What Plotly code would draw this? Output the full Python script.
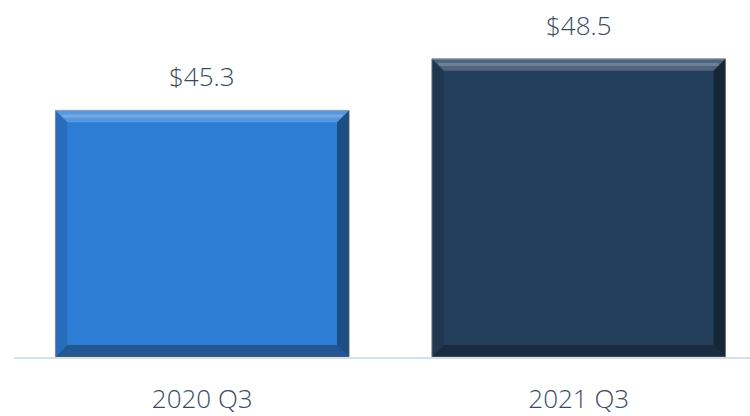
import plotly.graph_objects as go

categories = ["2020 Q3", "2021 Q3"]
values = [45.3, 48.5]
labels = ["$45.3", "$48.5"]
colors = ["#2e7dd5", "#243f5b"]

Y_MIN = 30
Y_MAX = 52.15
BAR_W = 0.78

fig = go.Figure()
fig.add_trace(go.Bar(
    x=list(range(len(categories))), y=[v - Y_MIN for v in values], base=Y_MIN,
    width=BAR_W, marker=dict(color=colors, line=dict(color="#8a8f96", width=1)),
    hoverinfo="skip", showlegend=False,
))

# bevel shapes derived from data
dx = 12 / 376.5
dy = 12 / 16.25
shapes = []
for i, v in enumerate(values):
    l, r = i - BAR_W / 2, i + BAR_W / 2
    t, b = v, Y_MIN
    def poly(pts, fill):
        path = "M " + " L ".join(f"{px},{py}" for px, py in pts) + " Z"
        shapes.append(dict(type="path", path=path, xref="x", yref="y",
                           fillcolor=fill, line=dict(width=0), layer="above"))
    # top bevel (light)
    poly([(l, t), (r, t), (r - dx, t - dy), (l + dx, t - dy)], "rgba(255,255,255,0.20)")
    # highlight stripe
    poly([(l + dx * 0.5, t - dy * 0.35), (r - dx * 0.5, t - dy * 0.35),
          (r - dx * 0.6, t - dy * 0.6), (l + dx * 0.6, t - dy * 0.6)], "rgba(255,255,255,0.18)")
    # left bevel
    poly([(l, t), (l + dx, t - dy), (l + dx, b + dy), (l, b)], "rgba(0,0,0,0.12)")
    # right bevel (dark)
    poly([(r, t), (r - dx, t - dy), (r - dx, b + dy), (r, b)], "rgba(0,0,0,0.38)")
    # bottom bevel (dark)
    poly([(l, b), (l + dx, b + dy), (r - dx, b + dy), (r, b)], "rgba(0,0,0,0.30)")

annotations = [
    dict(x=i, y=v, text=lab, showarrow=False, xref="x", yref="y",
         yanchor="middle", yshift=34,
         font=dict(family="Open Sans", size=26, color="#3a4b5f", weight=300))
    for i, (v, lab) in enumerate(zip(values, labels))
]

fig.update_layout(
    width=750, height=416,
    margin=dict(l=14, r=0, t=0, b=56),
    paper_bgcolor="white", plot_bgcolor="white",
    shapes=shapes, annotations=annotations,
    xaxis=dict(
        range=[-0.5, 1.455], tickmode="array",
        tickvals=list(range(len(categories))), ticktext=categories,
        showgrid=False, zeroline=False, showline=True,
        linecolor="#d3dfeb", linewidth=2,
        tickfont=dict(family="Open Sans", size=26, color="#3a4b5f", weight=300),
        ticklabelstandoff=18, ticks="",
    ),
    yaxis=dict(range=[Y_MIN, Y_MAX], visible=False, showgrid=False, zeroline=False),
)

fig.write_html("out.html", config={"displayModeBar": False},
               post_script="document.body.style.margin='0';")
